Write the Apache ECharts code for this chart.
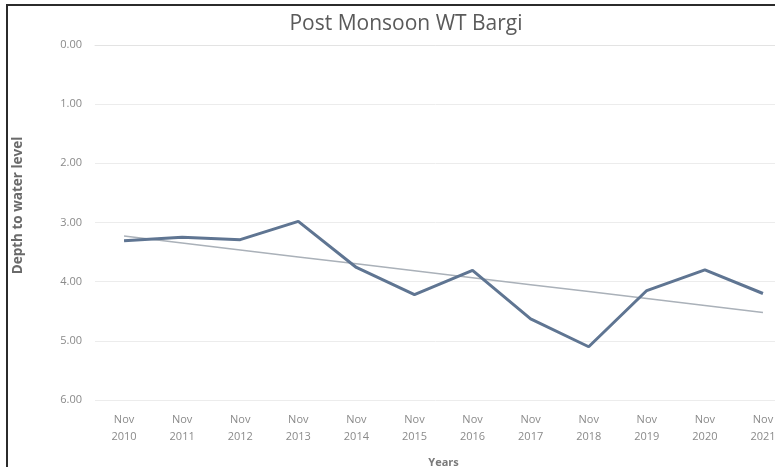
<!DOCTYPE html>
<html>
<head>
<meta charset="utf-8">
<script src="https://cdn.jsdelivr.net/npm/echarts@6/dist/echarts.min.js"></script>
<style>
  html, body { margin: 0; padding: 0; background: #fff; }
  #frame { position: absolute; left: 6px; top: 4px; width: 800px; height: 480px;
           border-left: 2px solid #2b2b2b; border-top: 2px solid #2b2b2b; }
  #chart { width: 775px; height: 467px; }
</style>
</head>
<body>
<div id="frame"></div>
<div id="chart"></div>
<script>
// Post-monsoon depth to water level at Bargi (m below ground)
const years = ['2010','2011','2012','2013','2014','2015','2016','2017','2018','2019','2020','2021'];
const categories = years.map(y => 'Nov\n' + y);
const depth = [3.31, 3.25, 3.29, 2.98, 3.76, 4.22, 3.81, 4.63, 5.10, 4.15, 3.80, 4.20];
const yTicks = [0, 1, 2, 3, 4, 5, 6];

// Least-squares linear trend over the yearly values
function linearTrend(vals) {
  const n = vals.length;
  const mx = (n - 1) / 2;
  const my = vals.reduce((a, b) => a + b, 0) / n;
  let sxy = 0, sxx = 0;
  vals.forEach((v, i) => { sxy += (i - mx) * (v - my); sxx += (i - mx) * (i - mx); });
  const slope = sxy / sxx;
  return vals.map((_, i) => +(my + slope * (i - mx)).toFixed(3));
}
const trend = linearTrend(depth);

const chart = echarts.init(document.getElementById('chart'), null, { renderer: 'canvas' });
chart.setOption({
  backgroundColor: 'transparent',
  animation: false,
  title: {
    text: 'Post Monsoon WT Bargi',
    left: 401, top: 9, textAlign: 'center',
    textStyle: { fontFamily: 'Open Sans', fontSize: 21, fontWeight: 'normal', color: '#5a5a5a' }
  },
  grid: { left: 95, right: -17, top: 45, bottom: 67, containLabel: false, outerBoundsMode: 'none' },
  xAxis: {
    type: 'category',
    data: categories,
    boundaryGap: true,
    name: 'Years',
    nameLocation: 'middle',
    nameGap: 57,
    nameTextStyle: { fontFamily: 'Open Sans', fontSize: 11, fontWeight: 'bold', color: '#7a7a7a' },
    axisLine: { show: true, lineStyle: { color: '#e3e3e3', width: 1 } },
    axisTick: { show: false },
    axisLabel: { fontFamily: 'Open Sans', fontSize: 11, color: '#8a8a8a', lineHeight: 17, margin: 11, interval: 0 }
  },
  yAxis: {
    type: 'value',
    inverse: true,
    min: yTicks[0], max: yTicks[yTicks.length - 1], interval: 1,
    name: 'Depth to water level',
    nameLocation: 'middle',
    nameGap: 70,
    nameRotate: 90,
    nameTextStyle: { fontFamily: 'Open Sans', fontSize: 13.5, fontWeight: 'bold', color: '#6a6a6a',
                     padding: [0, 0, 0, 34] },
    axisLine: { show: false },
    axisTick: { show: false },
    splitLine: { lineStyle: { color: '#ececec', width: 1 } },
    axisLabel: { fontFamily: 'Open Sans', fontSize: 11, color: '#8a8a8a', margin: 13,
                 formatter: v => v.toFixed(2) }
  },
  series: [
    {
      name: 'Trend',
      type: 'line',
      data: trend,
      symbol: 'none',
      lineStyle: { color: '#aab1b9', width: 1.5 },
      z: 2
    },
    {
      name: 'Depth',
      type: 'line',
      data: depth,
      symbol: 'none',
      lineStyle: { color: '#5f7592', width: 3 },
      z: 3
    }
  ]
});
</script>
</body>
</html>
